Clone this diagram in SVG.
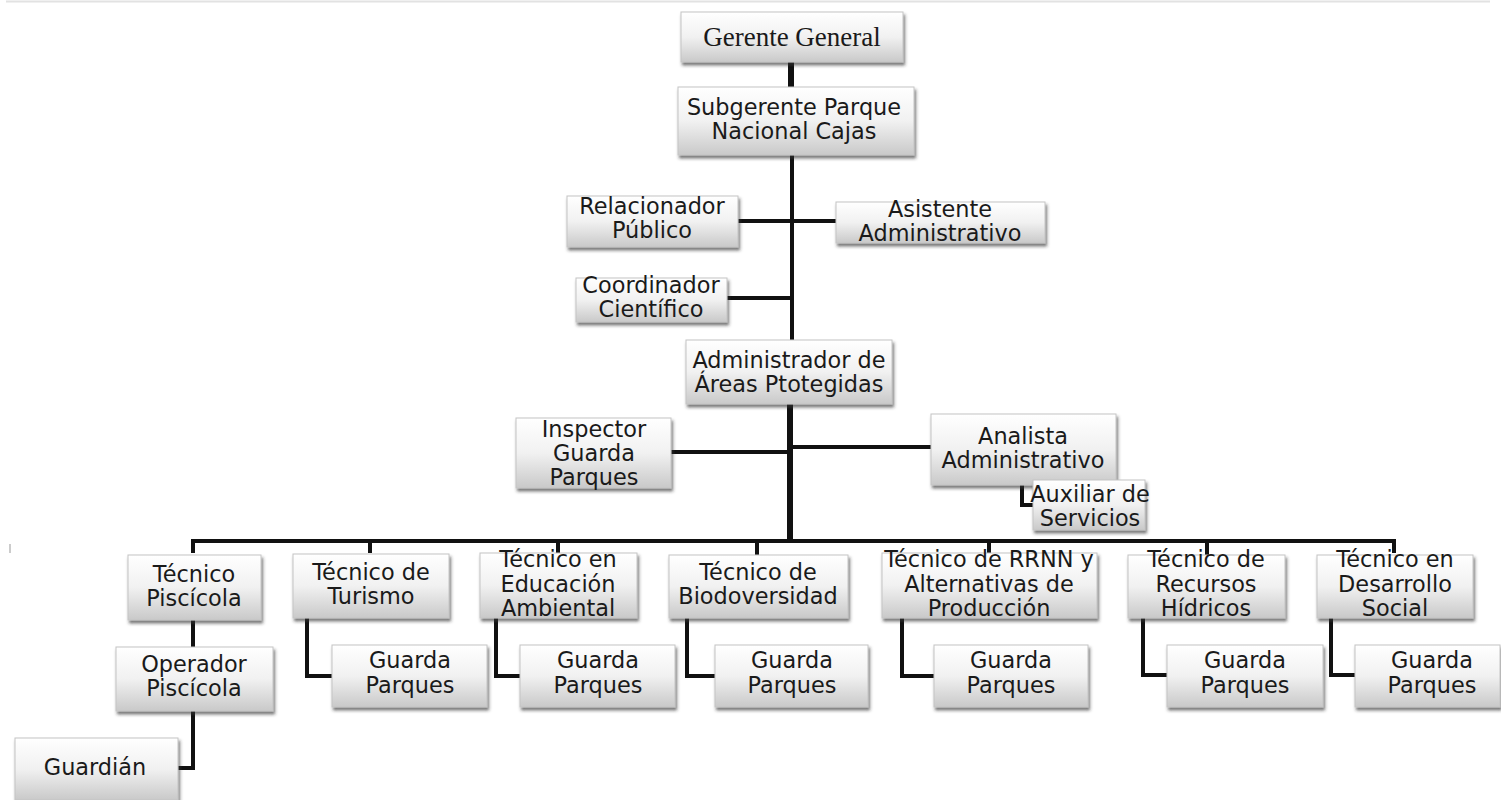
<svg xmlns="http://www.w3.org/2000/svg" width="1501" height="800" viewBox="0 0 1501 800">
<defs>
<linearGradient id="g" x1="0" y1="0" x2="0" y2="1">
<stop offset="0" stop-color="#ffffff"/>
<stop offset="0.5" stop-color="#f1f1f1"/>
<stop offset="1" stop-color="#c9c9c9"/>
</linearGradient>
<filter id="sh" x="-10%" y="-10%" width="125%" height="140%">
<feDropShadow dx="1.5" dy="3" stdDeviation="1.8" flood-color="#333" flood-opacity="0.65"/>
</filter>
</defs>
<style>
.b{fill:url(#g);stroke:#c4c4c4;stroke-width:1;filter:url(#sh)}
.t{font-family:"DejaVu Sans",sans-serif;font-size:22.4px;fill:#1a1a1a;text-anchor:middle}
.s{font-family:"Liberation Serif",serif;font-size:27px;fill:#1a1a1a;text-anchor:middle}
.c{fill:none;stroke:#111;stroke-width:4;stroke-linejoin:miter}
.k{stroke-width:6}
</style>
<rect width="1501" height="800" fill="#fff"/>
<line x1="6" y1="1.5" x2="1490" y2="1.5" stroke="#e2e2e2" stroke-width="2"/>
<line x1="10" y1="544" x2="10" y2="553" stroke="#bbb" stroke-width="1.5"/>

<g id="connectors">
<path class="c k" d="M791 62V88"/>
<path class="c" d="M792 155V340"/>
<path class="c" d="M738 221H836"/>
<path class="c" d="M727 298H792"/>
<path class="c k" d="M790 404V541"/>
<path class="c" d="M671 452H790"/>
<path class="c" d="M790 447H931"/>
<path class="c" d="M1022 485V505H1033"/>
<path class="c" d="M193 553V541H1394V553"/>
<path class="c" d="M370 541V553M558 541V553M757 541V555M989 541V553M1207 541V555"/>
<path class="c" d="M193 620V647M193 711V768H178"/>
<path class="c" d="M307 618V676H332"/>
<path class="c" d="M496 618V676H520"/>
<path class="c" d="M687 618V676H715"/>
<path class="c" d="M902 618V676H934"/>
<path class="c" d="M1143 618V675H1167"/>
<path class="c" d="M1331 618V675H1355"/>
</g>

<g id="gerente"><rect class="b" x="681" y="12" width="222" height="50"/><text class="s" x="792" y="46">Gerente General</text></g>
<g id="subgerente"><rect class="b" x="678" y="87" width="236" height="68"/><text class="t" x="794" y="115">Subgerente Parque</text><text class="t" x="794" y="139">Nacional Cajas</text></g>
<g id="relacionador"><rect class="b" x="567" y="196" width="171" height="51"/><text class="t" x="652" y="214">Relacionador</text><text class="t" x="652" y="238">Público</text></g>
<g id="asistente"><rect class="b" x="836" y="202" width="209" height="41"/><text class="t" x="940" y="217">Asistente</text><text class="t" x="940" y="241">Administrativo</text></g>
<g id="coordinador"><rect class="b" x="576" y="278" width="151" height="44"/><text class="t" x="651" y="293">Coordinador</text><text class="t" x="651" y="317">Científico</text></g>
<g id="administrador"><rect class="b" x="686" y="340" width="206" height="64"/><text class="t" x="789" y="368">Administrador de</text><text class="t" x="789" y="392">Áreas Ptotegidas</text></g>
<g id="inspector"><rect class="b" x="516" y="418" width="155" height="70"/><text class="t" x="594" y="437">Inspector</text><text class="t" x="594" y="461">Guarda</text><text class="t" x="594" y="485">Parques</text></g>
<g id="analista"><rect class="b" x="931" y="414" width="185" height="71"/><text class="t" x="1023" y="444">Analista</text><text class="t" x="1023" y="468">Administrativo</text></g>
<g id="auxiliar"><rect class="b" x="1033" y="480" width="112" height="50"/><text class="t" x="1090" y="502">Auxiliar de</text><text class="t" x="1090" y="526">Servicios</text></g>

<g id="tec-piscicola"><rect class="b" x="128" y="555" width="133" height="65"/><text class="t" x="194" y="582">Técnico</text><text class="t" x="194" y="606">Piscícola</text></g>
<g id="operador"><rect class="b" x="116" y="647" width="157" height="64"/><text class="t" x="194" y="672">Operador</text><text class="t" x="194" y="696">Piscícola</text></g>
<g id="guardian"><rect class="b" x="15" y="738" width="163" height="62"/><text class="t" x="95" y="775">Guardián</text></g>

<g id="tec-turismo"><rect class="b" x="293" y="554" width="156" height="64"/><text class="t" x="371" y="580">Técnico de</text><text class="t" x="371" y="604">Turismo</text></g>
<g id="gp-turismo"><rect class="b" x="332" y="645" width="155" height="62"/><text class="t" x="410" y="668">Guarda</text><text class="t" x="410" y="693">Parques</text></g>

<g id="tec-educacion"><rect class="b" x="480" y="553" width="157" height="65"/><text class="t" x="558" y="567">Técnico en</text><text class="t" x="558" y="592">Educación</text><text class="t" x="558" y="616">Ambiental</text></g>
<g id="gp-educacion"><rect class="b" x="520" y="645" width="155" height="62"/><text class="t" x="598" y="668">Guarda</text><text class="t" x="598" y="693">Parques</text></g>

<g id="tec-biodiversidad"><rect class="b" x="669" y="555" width="179" height="63"/><text class="t" x="758" y="580">Técnico de</text><text class="t" x="758" y="604">Biodoversidad</text></g>
<g id="gp-biodiversidad"><rect class="b" x="715" y="645" width="153" height="62"/><text class="t" x="792" y="668">Guarda</text><text class="t" x="792" y="693">Parques</text></g>

<g id="tec-rrnn"><rect class="b" x="882" y="553" width="215" height="65"/><text class="t" x="989" y="567">Técnico de RRNN y</text><text class="t" x="989" y="592">Alternativas de</text><text class="t" x="989" y="616">Producción</text></g>
<g id="gp-rrnn"><rect class="b" x="934" y="645" width="154" height="62"/><text class="t" x="1011" y="668">Guarda</text><text class="t" x="1011" y="693">Parques</text></g>

<g id="tec-hidricos"><rect class="b" x="1128" y="555" width="157" height="63"/><text class="t" x="1206" y="567">Técnico de</text><text class="t" x="1206" y="592">Recursos</text><text class="t" x="1206" y="616">Hídricos</text></g>
<g id="gp-hidricos"><rect class="b" x="1167" y="645" width="156" height="62"/><text class="t" x="1245" y="668">Guarda</text><text class="t" x="1245" y="693">Parques</text></g>

<g id="tec-desarrollo"><rect class="b" x="1317" y="555" width="156" height="63"/><text class="t" x="1395" y="567">Técnico en</text><text class="t" x="1395" y="592">Desarrollo</text><text class="t" x="1395" y="616">Social</text></g>
<g id="gp-desarrollo"><rect class="b" x="1355" y="645" width="145" height="62"/><text class="t" x="1432" y="668">Guarda</text><text class="t" x="1432" y="693">Parques</text></g>
</svg>
